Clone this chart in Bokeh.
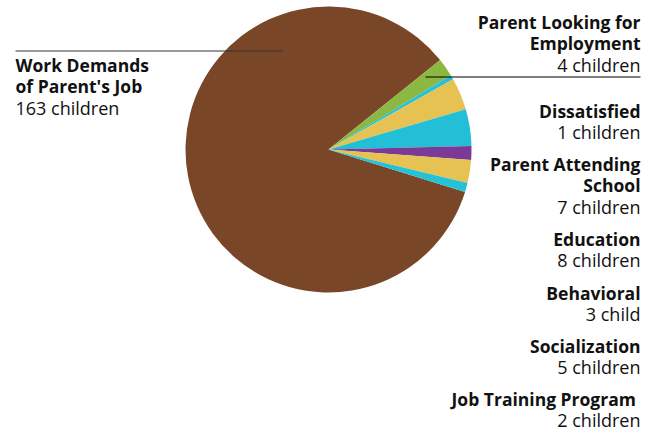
import numpy as np
from bokeh.plotting import figure
from bokeh.models import Range1d
from bokeh.core.properties import value
from bokeh.embed import file_html
from bokeh.resources import INLINE

# Data
categories = ["Work Demands of Parent's Job", "Parent Looking for Employment", "Dissatisfied",
              "Parent Attending School", "Education", "Behavioral", "Socialization",
              "Job Training Program"]
counts = [163, 4, 1, 7, 8, 3, 5, 2]
colors = ["#7A4628", "#8BB743", "#27C1D6", "#E5C251", "#22BFD6", "#7B3A96", "#E5C251", "#27C1D6"]
right_labels = [
    (["Parent Looking for", "Employment"], "4 children"),
    (["Dissatisfied"], "1 children"),
    (["Parent Attending", "School"], "7 children"),
    (["Education"], "8 children"),
    (["Behavioral"], "3 child"),
    (["Socialization"], "5 children"),
    (["Job Training Program "], "2 children"),
]
left_label = (["Work Demands", "of Parent's Job"], "163 children")

W, H = 657, 431
p = figure(width=W, height=H, output_backend="svg", toolbar_location=None,
           x_range=Range1d(0, W), y_range=Range1d(0, H), min_border=0)
p.axis.visible = False
p.grid.visible = False
p.outline_line_color = None
p.background_fill_color = "white"

def Y(screen_y):
    return H - screen_y

def X(screen_x):
    return screen_x

cx, cy, r = X(328), Y(149), 143
total = sum(counts)
start_deg = 38.7
ang = start_deg
starts, ends = [], []
for c in counts[1:]:
    span = c / total * 360
    ends.append(np.radians(ang))
    starts.append(np.radians(ang - span))
    ang -= span
main_start = np.radians(start_deg)
main_end = np.radians(ang + 360)
p.wedge(x=cx, y=cy, radius=r, radius_units="screen", start_angle=main_start, end_angle=main_end,
        fill_color=colors[0], line_color=None)
for s, e, col in zip(starts, ends, colors[1:]):
    p.wedge(x=cx, y=cy, radius=r, radius_units="screen", start_angle=s, end_angle=e,
            fill_color=col, line_color=None)

# leader lines
p.line(x=[X(15), X(282)], y=[Y(50.5), Y(50.5)], line_color="#333333", line_width=1)
p.line(x=[X(425), X(640)], y=[Y(76.5), Y(76.5)], line_color="#000000", line_width=1)

font = value("Open Sans")
fs_b = "17.5px"
fs_n = "18px"
lh = 21.7
ys = [21, 110, 163, 238, 292, 345, 398]
for (bold_lines, norm), y0 in zip(right_labels, ys):
    yy = y0
    for bl in bold_lines:
        p.text(x=[X(640)], y=[Y(yy)], text=[bl], text_font=font, text_font_size=fs_b,
               text_font_style="bold", text_align="right", text_baseline="middle", text_color="#111111")
        yy += lh
    p.text(x=[X(640)], y=[Y(yy)], text=[norm], text_font=font, text_font_size=fs_n,
           text_align="right", text_baseline="middle", text_color="#111111")

yy = 64
for bl in left_label[0]:
    p.text(x=[X(15)], y=[Y(yy)], text=[bl], text_font=font, text_font_size=fs_b,
           text_font_style="bold", text_align="left", text_baseline="middle", text_color="#111111")
    yy += lh
p.text(x=[X(15)], y=[Y(yy)], text=[left_label[1]], text_font=font, text_font_size=fs_n,
       text_align="left", text_baseline="middle", text_color="#111111")

open("out.html", "w").write(file_html(p, INLINE))
